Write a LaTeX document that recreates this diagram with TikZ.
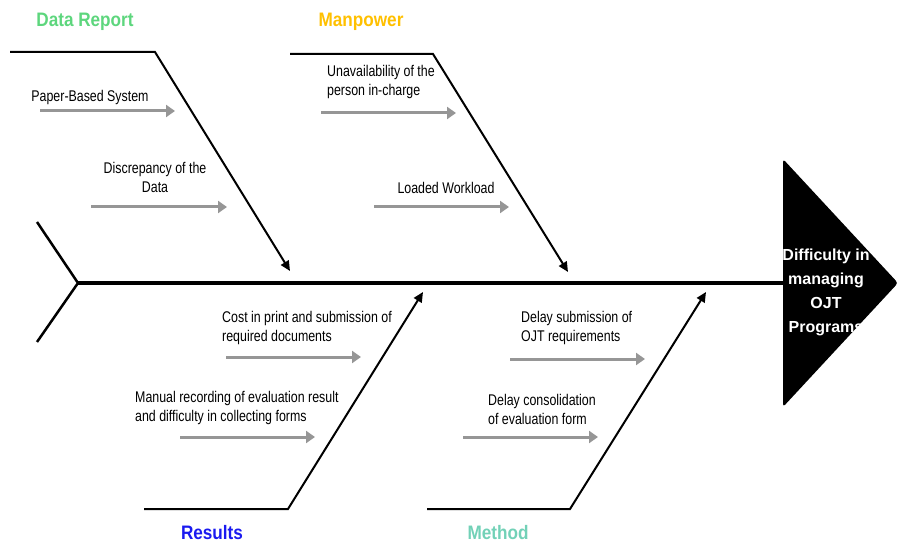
\documentclass[tikz,border=0pt]{standalone}
\usepackage{fontspec}
\setmainfont{Liberation Sans}
\newfontfamily\causefont[FakeStretch=0.8]{Liberation Sans}
\newfontfamily\catfont[FakeStretch=0.88]{Liberation Sans}
\usetikzlibrary{arrows.meta,positioning}
\definecolor{drgreen}{RGB}{93,214,125}
\definecolor{mporange}{RGB}{255,192,0}
\definecolor{resblue}{RGB}{26,26,240}
\definecolor{mteal}{RGB}{114,209,183}
\definecolor{causegray}{RGB}{150,150,150}
\tikzset{
  bone/.style={line width=2pt,-{Triangle[length=10pt,width=9pt]}},
  cause/.style={line width=3pt,causegray,-{Triangle[length=9pt,width=12pt]}},
  causetxt/.style={inner sep=0pt,font=\causefont\fontsize{15.5}{19}\selectfont},
  cattxt/.style={inner sep=0pt,font=\catfont\bfseries\fontsize{19.5}{22}\selectfont}
}
\begin{document}
\begin{tikzpicture}[x=1pt,y=-1pt]
\useasboundingbox (0,0) rectangle (897,545);
% head and spine
\fill [rounded corners=3pt] (783,159) -- (898,283) -- (783,407) -- cycle;
\node (effect) [white,align=center,inner sep=0pt,font=\bfseries\fontsize{16}{24}\selectfont] at (826,292) {Difficulty in\\managing\\OJT\\Programs};
\coordinate (tail) at (78,283);
\coordinate (hd) at (783,283);
\draw [line width=4pt] (tail) -- (hd);
\draw [line width=2.5pt] (37,222) -- (tail) -- (37,342);

% bones
\coordinate (dr0) at (10,52);
\coordinate (dr1) at (155,52);
\coordinate (dr2) at (290,271);
\draw [bone] (dr0) -- (dr1) -- (dr2);
\coordinate (mp0) at (290,54);
\coordinate (mp1) at (433,54);
\coordinate (mp2) at (568,272);
\draw [bone] (mp0) -- (mp1) -- (mp2);
\coordinate (rs0) at (144,509);
\coordinate (rs1) at (288,509);
\coordinate (rs2) at (423,292);
\draw [bone] (rs0) -- (rs1) -- (rs2);
\coordinate (me0) at (427,509);
\coordinate (me1) at (570,509);
\coordinate (me2) at (706,292);
\draw [bone] (me0) -- (me1) -- (me2);

% categories
\node (datarep) [cattxt,drgreen] at (85,22) {Data Report};
\node (manpow) [cattxt,mporange] at (361,22) {Manpower};
\node (result) [cattxt,resblue] at (212,533) {Results};
\node (method) [cattxt,mteal] at (498,533) {Method};

% causes
\node (paper) [causetxt] at (90,97) {Paper-Based System};
\coordinate (a1) at (40,111);
\coordinate (b1) at (175,111);
\draw [cause] (a1) -- (b1);
\node (discr) [causetxt,align=center] at (155,177) {Discrepancy of the\\Data};
\coordinate (a2) at (91,207);
\coordinate (b2) at (227,207);
\draw [cause] (a2) -- (b2);
\node (unav) [causetxt,align=left,anchor=west] at (327,82) {Unavailability of the\\person in-charge};
\coordinate (a3) at (321,113);
\coordinate (b3) at (456,113);
\draw [cause] (a3) -- (b3);
\node (loaded) [causetxt] at (446,188) {Loaded Workload};
\coordinate (a4) at (374,207);
\coordinate (b4) at (509,207);
\draw [cause] (a4) -- (b4);
\node (cost) [causetxt,align=left,anchor=west] at (222,328) {Cost in print and submission of\\required documents};
\coordinate (a5) at (226,357);
\coordinate (b5) at (361,357);
\draw [cause] (a5) -- (b5);
\node (manual) [causetxt,align=left,anchor=west] at (135,408) {Manual recording of evaluation result\\and difficulty in collecting forms};
\coordinate (a6) at (180,437);
\coordinate (b6) at (315,437);
\draw [cause] (a6) -- (b6);
\node (delsub) [causetxt,align=left,anchor=west] at (521,328) {Delay submission of\\OJT requirements};
\coordinate (a7) at (510,359);
\coordinate (b7) at (645,359);
\draw [cause] (a7) -- (b7);
\node (delcon) [causetxt,align=left,anchor=west] at (488,409) {Delay consolidation\\of evaluation form};
\coordinate (a8) at (463,437);
\coordinate (b8) at (598,437);
\draw [cause] (a8) -- (b8);
\end{tikzpicture}
\end{document}
